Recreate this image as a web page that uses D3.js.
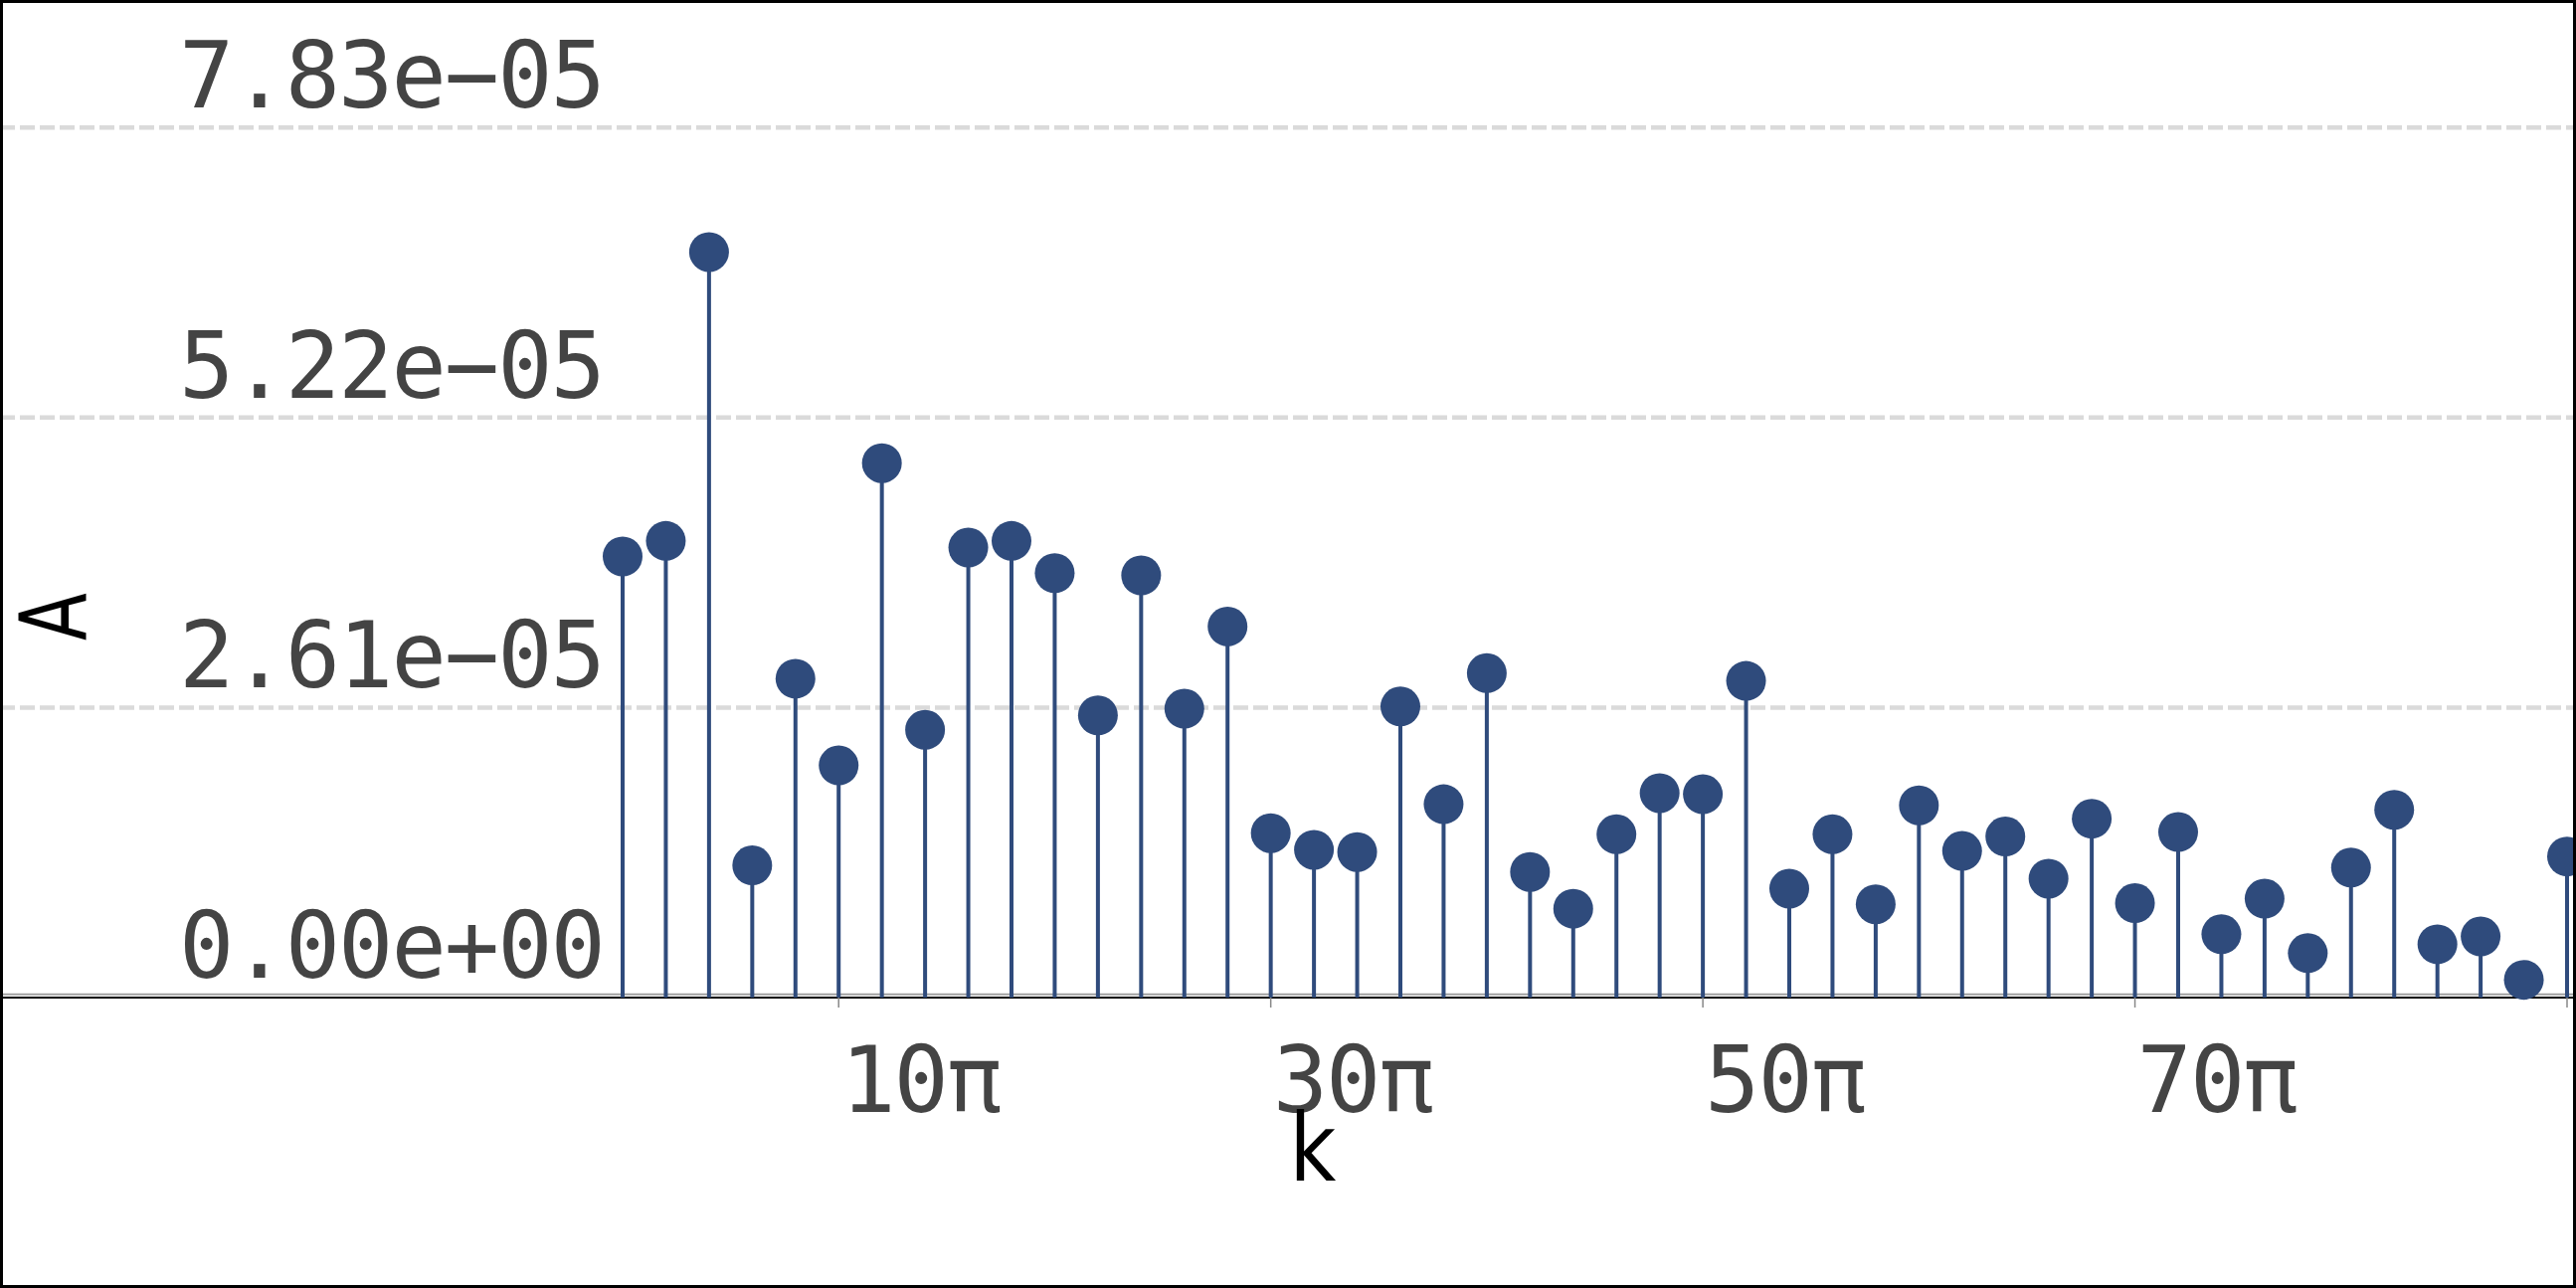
<!DOCTYPE html>
<html>
<head>
<meta charset="utf-8">
<script src="https://cdn.jsdelivr.net/npm/d3@7"></script>
<style>
  body { margin: 0; background: #fff; }
  svg { display: block; }
</style>
</head>
<body>
<div id="chart"></div>
<script>
// harmonic positions k, in multiples of pi
var kPi = [0, 2, 4, 6, 8, 10, 12, 14, 16, 18, 20, 22, 24, 26, 28, 30,
           32, 34, 36, 38, 40, 42, 44, 46, 48, 50, 52, 54, 56, 58, 60,
           62, 64, 66, 68, 70, 72, 74, 76, 78, 80, 82, 84, 86, 88, 90];

// amplitude A of each harmonic
var amp = [3.97e-5, 4.11e-5, 6.71e-5, 1.19e-5, 2.87e-5, 2.09e-5, 4.81e-5, 2.41e-5,
           4.05e-5, 4.11e-5, 3.82e-5, 2.54e-5, 3.80e-5, 2.60e-5, 3.34e-5, 1.48e-5,
           1.33e-5, 1.31e-5, 2.62e-5, 1.74e-5, 2.92e-5, 1.13e-5, 0.80e-5, 1.47e-5,
           1.84e-5, 1.83e-5, 2.85e-5, 0.98e-5, 1.47e-5, 0.84e-5, 1.73e-5, 1.32e-5,
           1.45e-5, 1.07e-5, 1.61e-5, 0.85e-5, 1.49e-5, 0.57e-5, 0.89e-5, 0.40e-5,
           1.17e-5, 1.69e-5, 0.48e-5, 0.55e-5, 0.16e-5, 1.27e-5];

var yTicks = [0, 2.61e-5, 5.22e-5, 7.83e-5];
var xTicks = [10, 30, 50, 70, 90];

var W = 2590, H = 1295;
var blue = "#2f4b7c";
var mono = "'DejaVu Sans Mono', monospace";
var sans = "'DejaVu Sans', sans-serif";

var svg = d3.select("#chart")
  .append("svg")
    .attr("width", W)
    .attr("height", H);

svg.append("rect")
  .attr("width", W).attr("height", H)
  .attr("fill", "#fff");

// scales
var x = d3.scaleLinear()
  .domain([0, 90])
  .range([626, 2581]);

var y = d3.scaleLinear()
  .domain([0, 7.83e-5])
  .range([1003, 128.3]);

var y0 = y(0);

function fmt(v) {
  // 7.83e-05 style, with a real minus sign
  var s = v.toExponential(2).split("e");
  var e = +s[1];
  var sign = e < 0 ? "\u2212" : "+";
  e = Math.abs(e);
  return s[0] + "e" + sign + (e < 10 ? "0" + e : e);
}

// dashed gridlines
svg.append("g")
  .selectAll("line")
  .data(yTicks.filter(function(d) { return d > 0; }))
  .enter().append("line")
    .attr("x1", 0).attr("x2", W)
    .attr("y1", function(d) { return y(d); })
    .attr("y2", function(d) { return y(d); })
    .attr("stroke", "#dadada")
    .attr("stroke-width", 4.5)
    .attr("stroke-dasharray", "15,5");

// y tick labels, sitting above their gridline
svg.append("g")
  .selectAll("text")
  .data(yTicks)
  .enter().append("text")
    .attr("x", 607)
    .attr("y", function(d) { return y(d) - 20; })
    .attr("text-anchor", "end")
    .style("font-family", mono)
    .style("font-size", "92px")
    .style("letter-spacing", "-2px")
    .attr("fill", "#444")
    .text(fmt);

// baseline + axis line
svg.append("line")
  .attr("x1", 0).attr("x2", W)
  .attr("y1", y0 - 3.3).attr("y2", y0 - 3.3)
  .attr("stroke", "#a0a0a0")
  .attr("stroke-width", 2);

svg.append("line")
  .attr("x1", 0).attr("x2", W)
  .attr("y1", y0).attr("y2", y0)
  .attr("stroke", "#000")
  .attr("stroke-width", 2);

// x ticks
var xAxis = svg.append("g");
xAxis.selectAll("line")
  .data(xTicks)
  .enter().append("line")
    .attr("x1", function(d) { return x(d); })
    .attr("x2", function(d) { return x(d); })
    .attr("y1", y0 - 10).attr("y2", y0 + 10)
    .attr("stroke", "#888")
    .attr("stroke-width", 1.5);

xAxis.selectAll("text")
  .data(xTicks)
  .enter().append("text")
    .attr("x", function(d) { return x(d) + 2; })
    .attr("y", 1118)
    .style("font-family", mono)
    .style("font-size", "92px")
    .style("letter-spacing", "-2px")
    .attr("fill", "#444")
    .text(function(d) { return d + "π"; });

// stems
var data = kPi.map(function(k, i) { return {k: k, a: amp[i]}; });

svg.append("g")
  .selectAll("line")
  .data(data)
  .enter().append("line")
    .attr("x1", function(d) { return x(d.k); })
    .attr("x2", function(d) { return x(d.k); })
    .attr("y1", y0)
    .attr("y2", function(d) { return y(d.a); })
    .attr("stroke", blue)
    .attr("stroke-width", 4);

svg.append("g")
  .selectAll("circle")
  .data(data)
  .enter().append("circle")
    .attr("cx", function(d) { return x(d.k); })
    .attr("cy", function(d) { return y(d.a); })
    .attr("r", 20)
    .attr("fill", blue);

// axis titles (narrow face in the original, so squeeze a bit)
svg.append("text")
  .attr("transform", "translate(86,620) rotate(-90) scale(0.76,1)")
  .attr("text-anchor", "middle")
  .style("font-family", sans)
  .style("font-size", "92px")
  .attr("fill", "#000")
  .text("A");

svg.append("text")
  .attr("transform", "translate(1320,1187) scale(0.86,1)")
  .attr("text-anchor", "middle")
  .style("font-family", sans)
  .style("font-size", "94px")
  .attr("fill", "#000")
  .text("k");

// frame
svg.append("rect")
  .attr("x", 1.5).attr("y", 1.5)
  .attr("width", W - 3).attr("height", H - 3)
  .attr("fill", "none")
  .attr("stroke", "#000")
  .attr("stroke-width", 3);
</script>
</body>
</html>
